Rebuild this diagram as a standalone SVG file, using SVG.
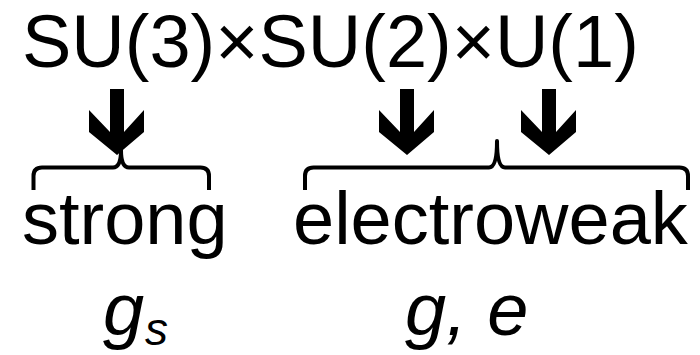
<svg xmlns="http://www.w3.org/2000/svg" width="700" height="355" viewBox="0 0 700 355">
<style>
  text { font-family: "Liberation Sans", Arial, sans-serif; fill: #000; }
  .big { font-size: 74px; }
  .it { font-style: italic; }
  .brace { fill: none; stroke: #000; stroke-width: 4; stroke-linejoin: round; }
  .arrow { fill: #000; stroke: none; }
</style>
<defs>
  <path id="arr" d="M -7 0 H 7 V 43 L 27 21 V 43 L 0 66 L -28 43 V 21 L -7 43 Z"/>
</defs>
<rect width="700" height="355" fill="#fff"/>
<g id="group-text">
  <text class="big" x="22" y="67">SU(3)×SU(2)×U(1)</text>
</g>
<g id="strong">
  <text class="big" x="22" y="244">strong</text>
</g>
<g id="electroweak">
  <text class="big" x="293" y="244">electroweak</text>
</g>
<g id="coupling-strong">
  <text class="big it" x="103" y="335">g</text>
  <text class="it" x="145" y="345" font-size="46">s</text>
</g>
<g id="coupling-ew">
  <text class="big it" x="405" y="335">g, e</text>
</g>
<g id="connectors">
  <use href="#arr" class="arrow" x="117" y="89"/>
  <use href="#arr" class="arrow" x="407" y="89"/>
  <use href="#arr" class="arrow" x="549" y="89"/>
  <path class="brace" d="M 33.5 190 V 176 Q 33.5 167.5 42 167.5 H 113 Q 121 167.5 121 150 Q 121 167.5 129 167.5 H 200.5 Q 209 167.5 209 176 V 190"/>
  <path class="brace" d="M 305 190 V 176 Q 305 167.5 313.5 167.5 H 489 Q 497 167.5 497 141 Q 497 167.5 505 167.5 H 679.5 Q 688 167.5 688 176 V 190"/>
</g>
</svg>
